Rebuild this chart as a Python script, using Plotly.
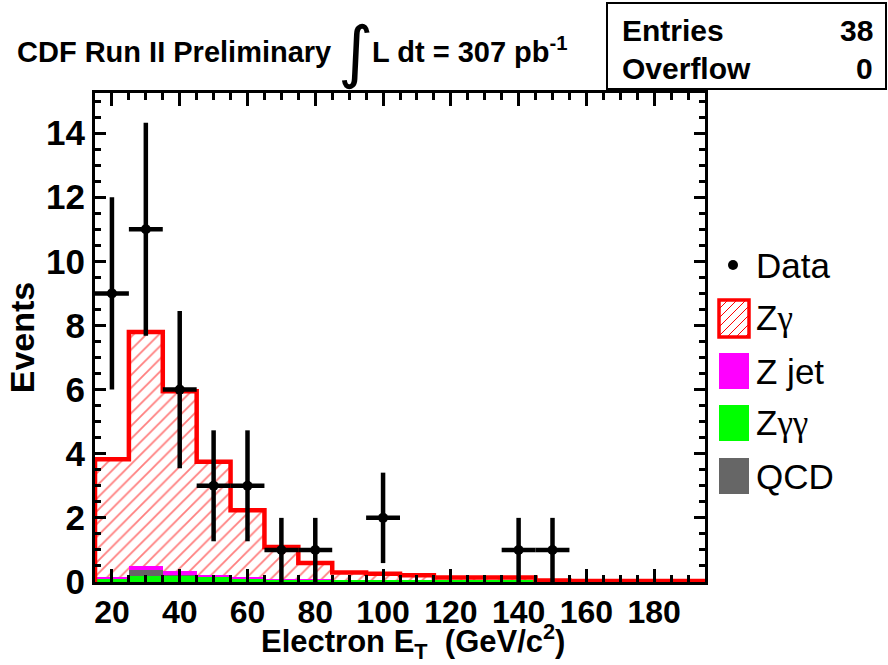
import plotly.graph_objects as go

# ---------------- data ----------------
bin_edges = [15, 25, 35, 45, 55, 65, 75, 85, 95, 105, 115, 125, 135, 145, 155, 165, 175, 185, 195]
bin_centers = [20, 30, 40, 50, 60, 70, 80, 90, 100, 110, 120, 130, 140, 150, 160, 170, 180, 190]

zgg = [0.10, 0.19, 0.19, 0.16, 0.12, 0.09, 0.08, 0.07, 0.07, 0.06, 0.05, 0.05, 0.05, 0.03, 0.02, 0.02, 0.02, 0.02]
qcd = [0.00, 0.17, 0.02, 0.00, 0.00, 0.00, 0.00, 0.00, 0.00, 0.00, 0.00, 0.00, 0.00, 0.00, 0.00, 0.00, 0.00, 0.00]
zjet = [0.05, 0.14, 0.12, 0.05, 0.03, 0.01, 0.01, 0.00, 0.00, 0.00, 0.00, 0.00, 0.00, 0.00, 0.00, 0.00, 0.00, 0.00]
zgamma = [3.68, 7.30, 5.62, 3.54, 2.09, 0.99, 0.50, 0.23, 0.19, 0.15, 0.09, 0.09, 0.09, 0.02, 0.01, 0.01, 0.01, 0.01]

data_x = [20, 30, 40, 50, 60, 70, 80, 100, 140, 150]
data_y = [9, 11, 6, 3, 3, 1, 1, 2, 1, 1]
data_err = [3.0, 3.32, 2.45, 1.73, 1.73, 1.0, 1.0, 1.41, 1.0, 1.0]
data_xerr = [5, 5, 5, 5, 5, 5, 5, 5, 5, 5]

x_tickvals = [20, 40, 60, 80, 100, 120, 140, 160, 180]
y_tickvals = [0, 2, 4, 6, 8, 10, 12, 14]

GAM = "<span style='font-family:Liberation Serif'>γ</span>"
legend_labels = ["Data", "Z" + GAM, "Z jet", "Z" + GAM + GAM, "QCD"]

# ---------------- layout constants ----------------
W, H = 888, 665
L, R, T, B = 95, 705, 93, 582
FONT = "Liberation Sans"

def px(x):
    return (x - L) / (R - L)

def py(y):
    return (B - y) / (B - T)

totals = [a + b + c + d for a, b, c, d in zip(zgg, qcd, zjet, zgamma)]

fig = go.Figure()

fig.add_trace(go.Bar(x=bin_centers, y=zgg, width=10, marker=dict(color="#00ff00", line=dict(width=0)), showlegend=False))
fig.add_trace(go.Bar(x=bin_centers, y=qcd, width=10, marker=dict(color="#666666", line=dict(width=0)), showlegend=False))
fig.add_trace(go.Bar(x=bin_centers, y=zjet, width=10, marker=dict(color="#ff00ff", line=dict(width=0)), showlegend=False))
fig.add_trace(go.Bar(x=bin_centers, y=zgamma, width=10,
                     marker=dict(color="white", line=dict(width=0),
                                 pattern=dict(shape="/", fgcolor="#ff0000", bgcolor="white", size=9, solidity=0.2)),
                     showlegend=False))

# step outline of the total
sx = [bin_edges[0]] + bin_edges[:-1] + [bin_edges[-1], bin_edges[-1]]
sy = [0] + totals + [totals[-1], 0]
fig.add_trace(go.Scatter(x=sx, y=sy, mode="lines", line=dict(color="red", width=4.5, shape="hv"), showlegend=False))

# data points
fig.add_trace(go.Scatter(
    x=data_x, y=data_y, mode="markers",
    marker=dict(color="black", size=10),
    error_y=dict(type="data", array=data_err, color="black", thickness=4.5, width=0),
    error_x=dict(type="data", array=data_xerr, color="black", thickness=4.5, width=0),
    showlegend=False))

shapes = []
annotations = []

# stat box
shapes.append(dict(type="rect", xref="paper", yref="paper",
                   x0=px(607), x1=px(886), y0=py(89), y1=py(3),
                   line=dict(color="black", width=2), fillcolor="white", layer="above"))
for lab, val, yc in [("Entries", "38", 31), ("Overflow", "0", 68)]:
    annotations.append(dict(xref="paper", yref="paper", x=px(620), y=py(yc), text=lab, showarrow=False,
                            xanchor="left", yanchor="middle", font=dict(family=FONT, size=30, color="black", weight="bold")))
    annotations.append(dict(xref="paper", yref="paper", x=px(875), y=py(yc), text=val, showarrow=False,
                            xanchor="right", yanchor="middle", font=dict(family=FONT, size=30, color="black", weight="bold")))

# title pieces
annotations.append(dict(xref="paper", yref="paper", x=px(15), y=py(52), text="CDF Run II Preliminary", showarrow=False,
                        xanchor="left", yanchor="middle", font=dict(family=FONT, size=29, color="black", weight="bold")))
annotations.append(dict(xref="paper", yref="paper", x=px(355), y=py(52), text="∫", showarrow=False,
                        xanchor="center", yanchor="middle", font=dict(family="DejaVu Sans", size=68, color="black")))
annotations.append(dict(xref="paper", yref="paper", x=px(370), y=py(50), text="L dt = 307 pb<sup>-1</sup>", showarrow=False,
                        xanchor="left", yanchor="middle", font=dict(family=FONT, size=29, color="black", weight="bold")))

# x-axis title
annotations.append(dict(xref="paper", yref="paper", x=px(413), y=py(641), text="Electron E<sub>T</sub>  (GeV/c<sup>2</sup>)",
                        showarrow=False, xanchor="center", yanchor="middle",
                        font=dict(family=FONT, size=31, color="black", weight="bold")))

# manual legend
leg_font = dict(family=FONT, size=35, color="black")
centers = [265, 318, 371, 423, 476]
shapes.append(dict(type="circle", xref="paper", yref="paper",
                   x0=px(728), x1=px(738), y0=py(270), y1=py(260),
                   fillcolor="black", line=dict(color="black", width=0)))
# hatched box for Z gamma
bx0, bx1, by0, by1 = 719, 749, 300, 337
shapes.append(dict(type="rect", xref="paper", yref="paper", x0=px(bx0), x1=px(bx1), y0=py(by1), y1=py(by0),
                   fillcolor="white", line=dict(color="red", width=3.5)))
k = bx0 + by0 + 9
while k < bx1 + by1:
    xa = max(bx0, k - by1)
    xb = min(bx1, k - by0)
    if xb > xa:
        shapes.append(dict(type="line", xref="paper", yref="paper",
                           x0=px(xa), y0=py(k - xa), x1=px(xb), y1=py(k - xb),
                           line=dict(color="red", width=1)))
    k += 9
for col, yc in [("#ff00ff", 371), ("#00ff00", 423), ("#666666", 476)]:
    shapes.append(dict(type="rect", xref="paper", yref="paper", x0=px(719), x1=px(749), y0=py(yc + 18), y1=py(yc - 18),
                       fillcolor=col, line=dict(width=0)))
for lab, yc in zip(legend_labels, centers):
    annotations.append(dict(xref="paper", yref="paper", x=px(754), y=py(yc), text=lab, showarrow=False,
                            xanchor="left", yanchor="middle", font=leg_font))

fig.update_layout(
    width=W, height=H,
    margin=dict(l=L, r=W - R, t=T, b=H - B, pad=0, autoexpand=False),
    paper_bgcolor="white", plot_bgcolor="white",
    barmode="stack", bargap=0,
    shapes=shapes, annotations=annotations,
    showlegend=False,
)

fig.update_xaxes(
    range=[15, 195], tickmode="array", tickvals=x_tickvals,
    ticks="inside", ticklen=13, tickwidth=2.5, tickcolor="black",
    minor=dict(ticks="inside", dtick=5, tick0=15, ticklen=7, tickwidth=2.5, tickcolor="black"),
    showline=True, linecolor="black", linewidth=3, mirror="allticks",
    showgrid=False, zeroline=False, automargin=False,
    tickfont=dict(family=FONT, size=32, color="black", weight="bold"),
)
fig.update_yaxes(
    range=[0, 15.25], tickmode="array", tickvals=y_tickvals,
    ticks="inside", ticklen=11, tickwidth=2.5, tickcolor="black",
    minor=dict(ticks="inside", dtick=0.5, tick0=0, ticklen=6, tickwidth=2.5, tickcolor="black"),
    showline=True, linecolor="black", linewidth=3, mirror="allticks",
    showgrid=False, zeroline=False, automargin=False,
    tickfont=dict(family=FONT, size=35, color="black", weight="bold"),
    title=dict(text="Events", standoff=2,
               font=dict(family=FONT, size=34, color="black", weight="bold")),
)

fig.write_html("out.html")
